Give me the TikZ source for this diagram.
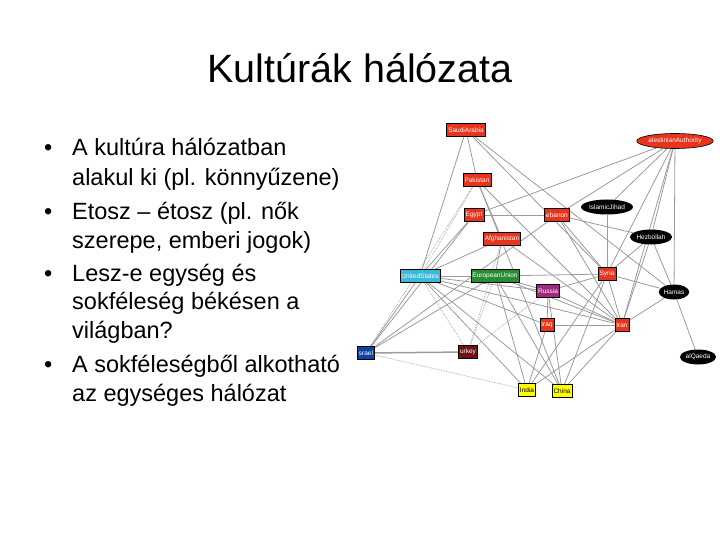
\documentclass[tikz,border=0pt]{standalone}
\usepackage{fontspec}
\setmainfont{Liberation Sans}
\usetikzlibrary{shapes.geometric,backgrounds}
\definecolor{netred}{RGB}{232,52,28}
\definecolor{uscyan}{RGB}{60,184,216}
\definecolor{eugreen}{RGB}{40,140,50}
\definecolor{rumag}{RGB}{160,40,128}
\definecolor{ilblue}{RGB}{16,64,160}
\definecolor{trbrown}{RGB}{112,16,16}
\definecolor{cnyellow}{RGB}{255,255,0}
\definecolor{linkgray}{RGB}{155,155,155}

\tikzset{
    country/.style={draw=black, line width=0.6pt, fill=netred, text=white,
        font=\fontsize{6.5}{7}\selectfont, inner sep=1.5pt, minimum height=13pt},
    group/.style={ellipse, fill=black, text=white, inner sep=0.5pt,
        font=\fontsize{6.5}{7}\selectfont, minimum height=15pt},
    link/.style={draw=linkgray, line width=0.8pt},
    weak/.style={draw=linkgray, line width=0.7pt, densely dotted},
    bulletline/.style={anchor=base west, inner sep=0pt, font=\fontsize{23.5}{28}\selectfont}
}

\begin{document}
\begin{tikzpicture}[x=1pt, y=-1pt]
    \useasboundingbox (0,0) rectangle (720,540);

    % Title
    \node [font=\fontsize{39.5}{46}\selectfont] (title) at (360,68) {Kultúrák hálózata};

    % Bullet list
    \node [bulletline] (b1) at (44,156) {•};
    \node [bulletline] (l1) at (72,156) {A kultúra hálózatban};
    \node [bulletline] (l2) at (72,186) {alakul ki (pl. könnyűzene)};
    \node [bulletline] (b2) at (44,219) {•};
    \node [bulletline] (l3) at (72,219) {Etosz – étosz (pl. nők};
    \node [bulletline] (l4) at (72,248) {szerepe, emberi jogok)};
    \node [bulletline] (b3) at (44,281) {•};
    \node [bulletline] (l5) at (72,281) {Lesz-e egység és};
    \node [bulletline] (l6) at (72,309) {sokféleség békésen a};
    \node [bulletline] (l7) at (72,338) {világban?};
    \node [bulletline] (b4) at (44,372) {•};
    \node [bulletline] (l8) at (72,372) {A sokféleségből alkotható};
    \node [bulletline] (l9) at (72,401) {az egységes hálózat};

    % Network nodes
    \node [country] (sa) at (466,130) {SaudiArabia};
    \node [country] (pk) at (477,180) {Pakistan};
    \node [country] (eg) at (474,215) {Egypt};
    \node [country] (af) at (502,239) {Afghanistan};
    \node [country] (lb) at (557,215) {ebanon};
    \node [group, fill=netred, draw=black, line width=0.6pt] (pa) at (675,141) {alestinianAuthority};
    \node [group] (ij) at (607,207) {IslamicJihad};
    \node [group] (hz) at (651,237) {Hezbollah};
    \node [country, fill=uscyan] (us) at (420,276) {UnitedStates};
    \node [country, fill=eugreen] (eu) at (495,276) {EuropeanUnion};
    \node [country, fill=rumag] (ru) at (548,291) {Russia};
    \node [country] (sy) at (607,274) {Syria};
    \node [group] (hm) at (674,292) {Hamas};
    \node [country] (iq) at (547,325) {Iraq};
    \node [country] (ir) at (622,325) {Iran};
    \node [group] (aq) at (698,357) {alQaeda};
    \node [country, fill=ilblue] (il) at (366,353) {srael};
    \node [country, fill=trbrown] (tr) at (468,352) {urkey};
    \node [country, fill=cnyellow, text=black] (ind) at (527,390) {India};
    \node [country, fill=cnyellow, text=black] (chn) at (562,391) {China};

    % Links
    \begin{scope}[on background layer]
        \foreach \a/\b in {sa/pk, sa/us, sa/sy, sa/hm, pk/af, pk/ir, pk/chn,
            eg/lb, eg/us, eg/il, af/us, af/eu, af/ir,
            lb/pa, lb/hz, lb/sy, lb/il, lb/ir, pa/eg, pa/ij, pa/hz, pa/hm, pa/sy, pa/ir,
            ij/sy, hz/sy, hz/ir, hz/hm, us/eu, us/il, us/ind, us/iq, us/ir, us/ru, us/chn,
            eu/il, eu/ind, eu/chn, eu/ru, eu/ir, eu/sy, ru/iq, ru/sy, ru/ir, ru/chn,
            iq/ir, iq/ind, sy/hm, sy/ir, sy/ind, sy/chn, ir/hm, ir/chn, ir/ind, hm/aq}
            \draw [link] (\a) -- (\b);
        \foreach \a/\b in {pk/us, pk/il, us/tr, eu/tr, af/tr, ru/tr, il/ind}
            \draw [weak] (\a) -- (\b);
        \draw [link, line width=1.5pt] (il) -- (tr);
    \end{scope}
\end{tikzpicture}
\end{document}
